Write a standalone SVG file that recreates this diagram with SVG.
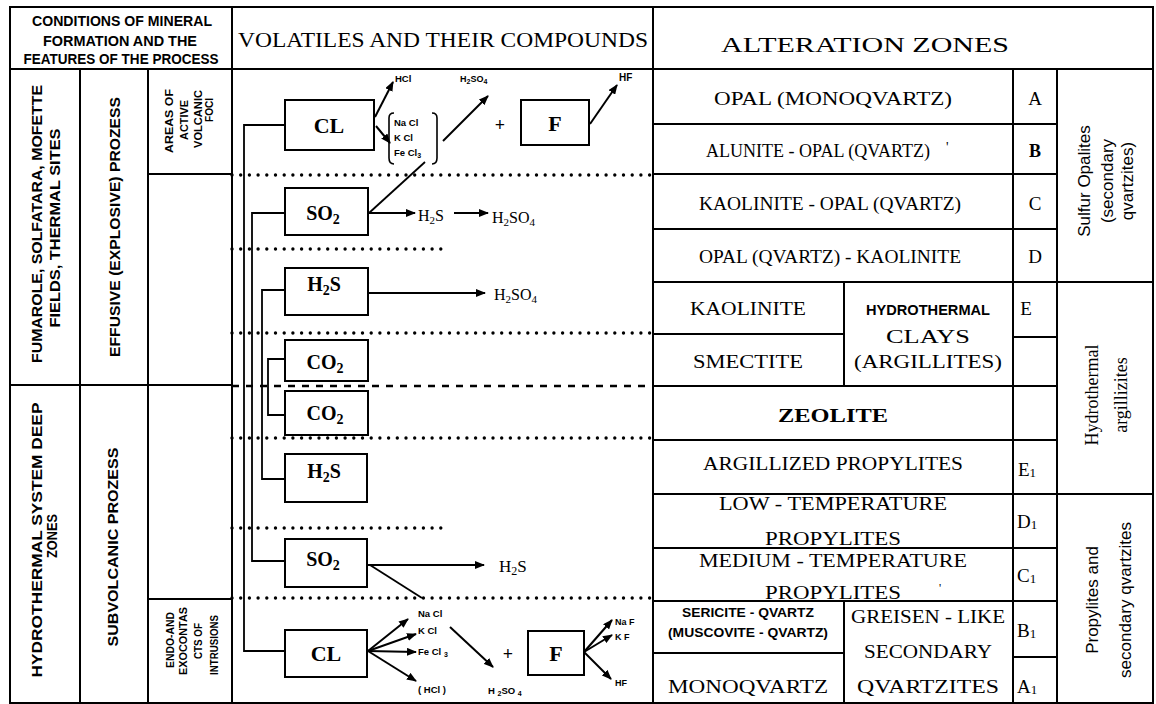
<svg xmlns="http://www.w3.org/2000/svg" width="1156" height="704" viewBox="0 0 1156 704">
<style>
.ln{stroke:#000;stroke-width:2;fill:none}
.thin{stroke:#000;stroke-width:1.6;fill:none}
.dot{stroke:#000;stroke-width:3.4;stroke-linecap:round;stroke-dasharray:0 8.7;fill:none}
.dash{stroke:#000;stroke-width:2.4;stroke-dasharray:7 7;fill:none}
.box{stroke:#000;stroke-width:2;fill:#fff}
.con{stroke:#000;stroke-width:1.8;fill:none}
.arr{stroke:#000;stroke-width:2;fill:none;marker-end:url(#ah)}
.s{font-family:"Liberation Serif",serif;fill:#000}
.sb{font-family:"Liberation Serif",serif;font-weight:bold;fill:#000}
.sans{font-family:"Liberation Sans",sans-serif;fill:#000}
.sansb{font-family:"Liberation Sans",sans-serif;font-weight:bold;fill:#000}
.c{text-anchor:middle}
</style>
<defs>
<marker id="ah" viewBox="0 0 10 8" refX="9" refY="4" markerWidth="10" markerHeight="8" markerUnits="userSpaceOnUse" orient="auto">
<path d="M0,0 L10,4 L0,8 Z" fill="#000"/>
</marker>
</defs>
<rect width="1156" height="704" fill="#fff"/>

<!-- table frame -->
<g id="frame">
<path class="ln" d="M10,7 H1153 V703 H10 Z"/>
<path class="ln" d="M10,69 H1153"/>
<path class="ln" d="M232,7 V703 M653,7 V703"/>
<path class="ln" d="M80,69 V703 M148,69 V703"/>
<path class="ln" d="M10,385 H232 M148,174 H232 M148,599 H232"/>
<path class="ln" d="M1013,69 V703 M1057,69 V703"/>
<path class="ln" d="M653,124 H1057 M653,174 H1057 M653,229 H1057 M653,282 H1153"/>
<path class="ln" d="M653,334 H844 M1013,337 H1057 M653,386 H1057 M653,440 H1057 M653,494 H1153"/>
<path class="ln" d="M653,548 H1057 M653,601 H1057 M653,653 H844 M1013,657 H1057"/>
<path class="ln" d="M844,282 V386 M844,601 V703"/>
</g>

<!-- headers -->
<g id="header-conditions">
<text class="sansb c" x="122" y="26" font-size="15" textLength="180" lengthAdjust="spacingAndGlyphs">CONDITIONS OF MINERAL</text>
<text class="sansb c" x="120" y="46" font-size="15" textLength="154" lengthAdjust="spacingAndGlyphs">FORMATION AND THE</text>
<text class="sansb c" x="121" y="64" font-size="15" textLength="195" lengthAdjust="spacingAndGlyphs">FEATURES OF THE PROCESS</text>
</g>
<g id="header-volatiles">
<text class="s c" x="443" y="47" font-size="21" textLength="410" lengthAdjust="spacingAndGlyphs">VOLATILES AND THEIR COMPOUNDS</text>
</g>
<g id="header-alteration">
<text class="s c" x="865" y="52" font-size="21" textLength="288" lengthAdjust="spacingAndGlyphs">ALTERATION ZONES</text>
</g>

<!-- left column labels -->
<g id="fumarole">
<text class="sansb c" font-size="15" transform="translate(42,224) rotate(-90)" textLength="278" lengthAdjust="spacingAndGlyphs">FUMAROLE, SOLFATARA, MOFETTE</text>
<text class="sansb c" font-size="15" transform="translate(60,228) rotate(-90)" textLength="199" lengthAdjust="spacingAndGlyphs">FIELDS, THERMAL SITES</text>
</g>
<g id="effusive">
<text class="sansb c" font-size="14" transform="translate(120,227) rotate(-90)" textLength="260" lengthAdjust="spacingAndGlyphs">EFFUSIVE (EXPLOSIVE) PROZESS</text>
</g>
<g id="areas-foci">
<text class="sansb c" font-size="10" transform="translate(173,121) rotate(-90)" textLength="64" lengthAdjust="spacingAndGlyphs">AREAS OF</text>
<text class="sansb c" font-size="10" transform="translate(188,120) rotate(-90)" textLength="40" lengthAdjust="spacingAndGlyphs">ACTIVE</text>
<text class="sansb c" font-size="10" transform="translate(202,119) rotate(-90)" textLength="58" lengthAdjust="spacingAndGlyphs">VOLCANIC</text>
<text class="sansb c" font-size="10" transform="translate(213,110) rotate(-90)" textLength="24" lengthAdjust="spacingAndGlyphs">FOCI</text>
</g>
<g id="hydrothermal-deep">
<text class="sansb c" font-size="15" transform="translate(42,540) rotate(-90)" textLength="275" lengthAdjust="spacingAndGlyphs">HYDROTHERMAL SYSTEM DEEP</text>
<text class="sansb c" font-size="15" transform="translate(57,536) rotate(-90)" textLength="44" lengthAdjust="spacingAndGlyphs">ZONES</text>
</g>
<g id="subvolcanic">
<text class="sansb c" font-size="14" transform="translate(118,547) rotate(-90)" textLength="199" lengthAdjust="spacingAndGlyphs">SUBVOLCANIC PROZESS</text>
</g>
<g id="endo-exo">
<text class="sansb c" font-size="10" transform="translate(174,640) rotate(-90)" textLength="56" lengthAdjust="spacingAndGlyphs">ENDO-AND</text>
<text class="sansb c" font-size="10" transform="translate(187,641) rotate(-90)" textLength="68" lengthAdjust="spacingAndGlyphs">EXOCONTAS</text>
<text class="sansb c" font-size="10" transform="translate(202,641) rotate(-90)" textLength="36" lengthAdjust="spacingAndGlyphs">CTS OF</text>
<text class="sansb c" font-size="10" transform="translate(218,645) rotate(-90)" textLength="60" lengthAdjust="spacingAndGlyphs">INTRUSIONS</text>
</g>

<!-- zone separators in the volatiles column -->
<g id="separators">
<path class="dot" d="M232,175 H653"/>
<path class="dot" d="M232,249 H442"/>
<path class="dot" d="M232,333 H653"/>
<path class="dash" d="M232,386 H653"/>
<path class="dot" d="M232,438 H653"/>
<path class="dot" d="M232,528 H442"/>
<path class="dot" d="M232,598 H653"/>
</g>

<!-- connectors -->
<g id="connectors">
<path class="con" d="M285,125 H244 V651 H285"/>
<path class="con" d="M285,213 H252 V561 H285"/>
<path class="con" d="M285,290 H262 V479 H285"/>
<path class="con" d="M285,359 H268 V415 H285"/>
<path class="arr" d="M375,117 L393,82"/>
<path class="arr" d="M376,126 L390,143"/>
<path class="arr" d="M443,141 L488,96"/>
<path class="arr" d="M590,124 L617,85"/>
<path class="con" d="M369,213 L425,162"/>
<path class="arr" d="M369,213 H415"/>
<path class="arr" d="M454,213 H488"/>
<path class="arr" d="M368,293 H485"/>
<path class="arr" d="M368,565 H484"/>
<path class="con" d="M370,565 L422,598"/>
<path class="arr" d="M368,651 L408,619"/>
<path class="arr" d="M368,651 L416,634"/>
<path class="arr" d="M368,651 L416,652"/>
<path class="arr" d="M368,651 L416,681"/>
<path class="arr" d="M450,627 L493,667"/>
<path class="arr" d="M584,652 L612,620"/>
<path class="arr" d="M584,652 L612,635"/>
<path class="arr" d="M584,652 L611,679"/>
</g>

<!-- upper CL group -->
<g id="cl-top">
<rect class="box" x="285" y="100" width="89" height="50"/>
<text class="sb c" x="329" y="133" font-size="22">CL</text>
</g>
<g id="chlorides-top">
<path class="thin" d="M394,113 Q389,113 389,118 V158 Q389,164 394,164"/>
<path class="thin" d="M432,113 Q437,113 437,118 V158 Q437,164 432,164"/>
<text class="sansb" x="394" y="126" font-size="9.5">Na Cl</text>
<text class="sansb" x="394" y="141" font-size="9.5">K Cl</text>
<text class="sansb" x="394" y="156" font-size="9.5">Fe Cl<tspan font-size="7" dy="2">3</tspan></text>
<text class="sansb" x="395" y="82" font-size="9.5">HCl</text>
<text class="sansb" x="460" y="82" font-size="9">H<tspan font-size="7" dy="2">2</tspan><tspan dy="-2">SO</tspan><tspan font-size="7" dy="2">4</tspan></text>
<text class="sb c" x="500" y="131" font-size="18">+</text>
</g>
<g id="f-top">
<rect class="box" x="521" y="100" width="68" height="45"/>
<text class="sb c" x="555" y="131" font-size="22">F</text>
<text class="sansb" x="619" y="81" font-size="10">HF</text>
</g>

<!-- SO2 upper -->
<g id="so2-top">
<rect class="box" x="285" y="188" width="83" height="47"/>
<text class="sb c" x="323" y="220" font-size="20">SO<tspan font-size="14" dy="4">2</tspan></text>
<text class="s" x="418" y="221" font-size="16">H<tspan font-size="11" dy="3">2</tspan><tspan dy="-3">S</tspan></text>
<text class="s" x="492" y="223" font-size="16">H<tspan font-size="11" dy="3">2</tspan><tspan dy="-3">SO</tspan><tspan font-size="11" dy="3">4</tspan></text>
</g>
<g id="h2s-top">
<rect class="box" x="285" y="268" width="83" height="47"/>
<text class="sb c" x="324" y="291" font-size="20">H<tspan font-size="14" dy="4">2</tspan><tspan dy="-4">S</tspan></text>
<text class="s" x="494" y="300" font-size="16">H<tspan font-size="11" dy="3">2</tspan><tspan dy="-3">SO</tspan><tspan font-size="11" dy="3">4</tspan></text>
</g>
<g id="co2-upper">
<rect class="box" x="285" y="340" width="83" height="41"/>
<text class="sb c" x="325" y="369" font-size="20">CO<tspan font-size="14" dy="4">2</tspan></text>
</g>
<g id="co2-lower">
<rect class="box" x="285" y="391" width="83" height="44"/>
<text class="sb c" x="325" y="420" font-size="20">CO<tspan font-size="14" dy="4">2</tspan></text>
</g>
<g id="h2s-lower">
<rect class="box" x="285" y="454" width="82" height="48"/>
<text class="sb c" x="324" y="478" font-size="20">H<tspan font-size="14" dy="4">2</tspan><tspan dy="-4">S</tspan></text>
</g>
<g id="so2-lower">
<rect class="box" x="285" y="539" width="82" height="48"/>
<text class="sb c" x="323" y="566" font-size="20">SO<tspan font-size="14" dy="4">2</tspan></text>
<text class="s" x="499" y="572" font-size="17">H<tspan font-size="12" dy="3">2</tspan><tspan dy="-3">S</tspan></text>
</g>
<g id="cl-lower">
<rect class="box" x="285" y="630" width="82" height="47"/>
<text class="sb c" x="326" y="661" font-size="22">CL</text>
<text class="sansb" x="418" y="617" font-size="9.5">Na Cl</text>
<text class="sansb" x="418" y="634" font-size="9.5">K Cl</text>
<text class="sansb" x="418" y="655" font-size="9.5">Fe Cl <tspan font-size="7" dy="2">3</tspan></text>
<text class="sansb" x="418" y="693" font-size="9.5">( HCl )</text>
<text class="sansb" x="488" y="694" font-size="9.5">H <tspan font-size="7" dy="2">2</tspan><tspan dy="-2">SO </tspan><tspan font-size="7" dy="2">4</tspan></text>
<text class="sb c" x="508" y="660" font-size="18">+</text>
</g>
<g id="f-lower">
<rect class="box" x="528" y="631" width="56" height="44"/>
<text class="sb c" x="556" y="661" font-size="22">F</text>
<text class="sansb" x="615" y="625" font-size="9">Na F</text>
<text class="sansb" x="615" y="640" font-size="9">K F</text>
<text class="sansb" x="615" y="686" font-size="9">HF</text>
</g>

<!-- alteration zones -->
<g id="zone-a">
<text class="s c" x="833" y="105" font-size="19" textLength="238" lengthAdjust="spacingAndGlyphs">OPAL (MONOQVARTZ)</text>
<text class="s c" x="1035" y="105" font-size="19">A</text>
</g>
<g id="zone-b">
<text class="s c" x="818" y="157" font-size="19" textLength="224" lengthAdjust="spacingAndGlyphs">ALUNITE - OPAL (QVARTZ)</text>
<text class="s" x="946" y="152" font-size="14">'</text>
<text class="sb c" x="1035" y="157" font-size="18">B</text>
</g>
<g id="zone-c">
<text class="s c" x="830" y="210" font-size="19" textLength="262" lengthAdjust="spacingAndGlyphs">KAOLINITE - OPAL (QVARTZ)</text>
<text class="s c" x="1035" y="210" font-size="19">C</text>
</g>
<g id="zone-d">
<text class="s c" x="830" y="263" font-size="19" textLength="262" lengthAdjust="spacingAndGlyphs">OPAL (QVARTZ) - KAOLINITE</text>
<text class="s c" x="1035" y="263" font-size="19">D</text>
</g>
<g id="zone-kaolinite">
<text class="s c" x="748" y="315" font-size="19" textLength="116" lengthAdjust="spacingAndGlyphs">KAOLINITE</text>
</g>
<g id="zone-smectite">
<text class="s c" x="748" y="368" font-size="19" textLength="110" lengthAdjust="spacingAndGlyphs">SMECTITE</text>
</g>
<g id="zone-clays">
<text class="sansb c" x="928" y="315" font-size="14" textLength="124" lengthAdjust="spacingAndGlyphs">HYDROTHERMAL</text>
<text class="s c" x="928" y="343" font-size="19" textLength="84" lengthAdjust="spacingAndGlyphs">CLAYS</text>
<text class="s c" x="928" y="368" font-size="19" textLength="148" lengthAdjust="spacingAndGlyphs">(ARGILLITES)</text>
<text class="s c" x="1026" y="315" font-size="19">E</text>
</g>
<g id="zone-zeolite">
<text class="sb c" x="833" y="422" font-size="19" textLength="110" lengthAdjust="spacingAndGlyphs">ZEOLITE</text>
</g>
<g id="zone-e1">
<text class="s c" x="833" y="470" font-size="19" textLength="260" lengthAdjust="spacingAndGlyphs">ARGILLIZED PROPYLITES</text>
<text class="s" x="1018" y="476" font-size="19">E<tspan font-size="13" dy="1">1</tspan></text>
</g>
<g id="zone-d1">
<text class="s c" x="833" y="510" font-size="19" textLength="228" lengthAdjust="spacingAndGlyphs">LOW - TEMPERATURE</text>
<text class="s c" x="833" y="545" font-size="19" textLength="136" lengthAdjust="spacingAndGlyphs">PROPYLITES</text>
<text class="s" x="1017" y="528" font-size="19">D<tspan font-size="13" dy="1">1</tspan></text>
</g>
<g id="zone-c1">
<text class="s c" x="833" y="567" font-size="19" textLength="268" lengthAdjust="spacingAndGlyphs">MEDIUM - TEMPERATURE</text>
<text class="s c" x="833" y="599" font-size="19" textLength="136" lengthAdjust="spacingAndGlyphs">PROPYLITES</text>
<text class="s" x="939" y="592" font-size="12">'</text>
<text class="s" x="1017" y="582" font-size="19">C<tspan font-size="13" dy="1">1</tspan></text>
</g>
<g id="zone-sericite">
<text class="sansb c" x="748" y="617" font-size="13" textLength="132" lengthAdjust="spacingAndGlyphs">SERICITE - QVARTZ</text>
<text class="sansb c" x="748" y="637" font-size="13" textLength="160" lengthAdjust="spacingAndGlyphs">(MUSCOVITE - QVARTZ)</text>
</g>
<g id="zone-monoqvartz">
<text class="s c" x="748" y="693" font-size="19" textLength="160" lengthAdjust="spacingAndGlyphs">MONOQVARTZ</text>
</g>
<g id="zone-greisen">
<text class="s c" x="928" y="623" font-size="19" textLength="154" lengthAdjust="spacingAndGlyphs">GREISEN - LIKE</text>
<text class="s c" x="928" y="658" font-size="19" textLength="128" lengthAdjust="spacingAndGlyphs">SECONDARY</text>
<text class="s c" x="928" y="693" font-size="19" textLength="142" lengthAdjust="spacingAndGlyphs">QVARTZITES</text>
<text class="s" x="1017" y="637" font-size="19">B<tspan font-size="13" dy="1">1</tspan></text>
<text class="s" x="1017" y="693" font-size="19">A<tspan font-size="13" dy="1">1</tspan></text>
</g>

<!-- groups -->
<g id="group-sulfur">
<text class="sans c" font-size="17" transform="translate(1090,181) rotate(-90)">Sulfur Opalites</text>
<text class="sans c" font-size="17" transform="translate(1113,181) rotate(-90)">(secondary</text>
<text class="sans c" font-size="17" transform="translate(1133,181) rotate(-90)">qvartzites)</text>
</g>
<g id="group-argillizites">
<text class="s c" font-size="18" transform="translate(1098,395) rotate(-90)">Hydrothermal</text>
<text class="s c" font-size="18" transform="translate(1127,395) rotate(-90)">argillizites</text>
</g>
<g id="group-propylites">
<text class="sans c" font-size="17" transform="translate(1098,600) rotate(-90)">Propylites and</text>
<text class="sans c" font-size="17" transform="translate(1131,600) rotate(-90)">secondary qvartzites</text>
</g>
</svg>
